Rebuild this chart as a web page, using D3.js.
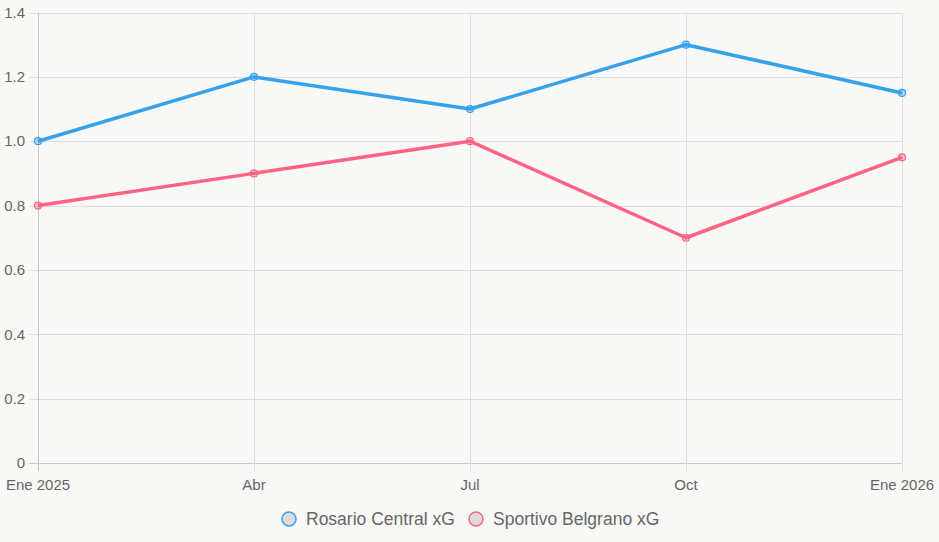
<!DOCTYPE html>
<html><head><meta charset="utf-8">
<script src="https://cdn.jsdelivr.net/npm/d3@7/dist/d3.min.js"></script>
<style>
html,body{margin:0;padding:0;background:#f8f8f6;}
svg{display:block;font-family:"Liberation Sans",Arial,sans-serif;}
</style></head>
<body>
<svg id="c" width="939" height="542"></svg>
<script>
const categories = ["Ene 2025", "Abr", "Jul", "Oct", "Ene 2026"];
const rosarioXG = [1.0, 1.2, 1.1, 1.3, 1.15];
const belgranoXG = [0.8, 0.9, 1.0, 0.7, 0.95];
const yTicks = [0, 0.2, 0.4, 0.6, 0.8, 1.0, 1.2, 1.4];
const seriesNames = ["Rosario Central xG", "Sportivo Belgrano xG"];
const seriesColors = ["#36A2EB", "#FF6384"];

const svg = d3.select("#c");
const pL = 38, pR = 902, pT = 12.5, pB = 463;
const x = d3.scalePoint().domain(categories).range([pL, pR]);
const y = d3.scaleLinear().domain([0, 1.4]).range([pB, pT]);

// grid
const g = svg.append("g");
g.selectAll(".hg").data(yTicks).join("line")
  .attr("x1", pL - 9).attr("x2", pR)
  .attr("y1", d => Math.round(y(d)) + 0.5).attr("y2", d => Math.round(y(d)) + 0.5)
  .attr("stroke", d => d === 0 ? "#c8c8c8" : "#dedede").attr("stroke-width", 1);
g.selectAll(".vg").data(categories).join("line")
  .attr("x1", d => Math.round(x(d)) + 0.5).attr("x2", d => Math.round(x(d)) + 0.5)
  .attr("y1", pT).attr("y2", pB + 8)
  .attr("stroke", (d, i) => i === 0 ? "#c8c8c8" : "#dedede").attr("stroke-width", 1);

// y labels
g.selectAll(".yl").data(yTicks).join("text")
  .attr("x", 25).attr("y", d => y(d)).attr("dy", "0.35em")
  .attr("text-anchor", "end").attr("font-size", 15).attr("fill", "#666")
  .text(d => d === 0 ? "0" : d.toFixed(1));
// x labels
g.selectAll(".xl").data(categories).join("text")
  .attr("x", d => x(d)).attr("y", 490)
  .attr("text-anchor", "middle").attr("font-size", 15).attr("fill", "#666")
  .text(d => d);

const line = d3.line().x((d, i) => x(categories[i])).y(d => y(d));
[rosarioXG, belgranoXG].forEach((vals, si) => {
  svg.append("path").datum(vals).attr("d", line)
    .attr("fill", "none").attr("stroke", seriesColors[si]).attr("stroke-width", 3.5)
    .attr("stroke-linejoin", "round");
  svg.selectAll(".p" + si).data(vals).join("circle")
    .attr("cx", (d, i) => x(categories[i])).attr("cy", d => y(d)).attr("r", 3.5)
    .attr("fill", d3.color(seriesColors[si]).copy({opacity: 0.35}))
    .attr("stroke", seriesColors[si]).attr("stroke-width", 1.2);
});

// legend
const leg = svg.append("g");
const legX = [289, 476];
seriesNames.forEach((n, i) => {
  leg.append("circle").attr("cx", legX[i]).attr("cy", 519).attr("r", 7)
    .attr("fill", "#dcdcdc").attr("stroke", seriesColors[i]).attr("stroke-width", 1.5);
  leg.append("text").attr("x", legX[i] + 17).attr("y", 519).attr("dy", "0.35em")
    .attr("font-size", 17.5).attr("fill", "#666").text(n);
});
</script>
</body></html>
